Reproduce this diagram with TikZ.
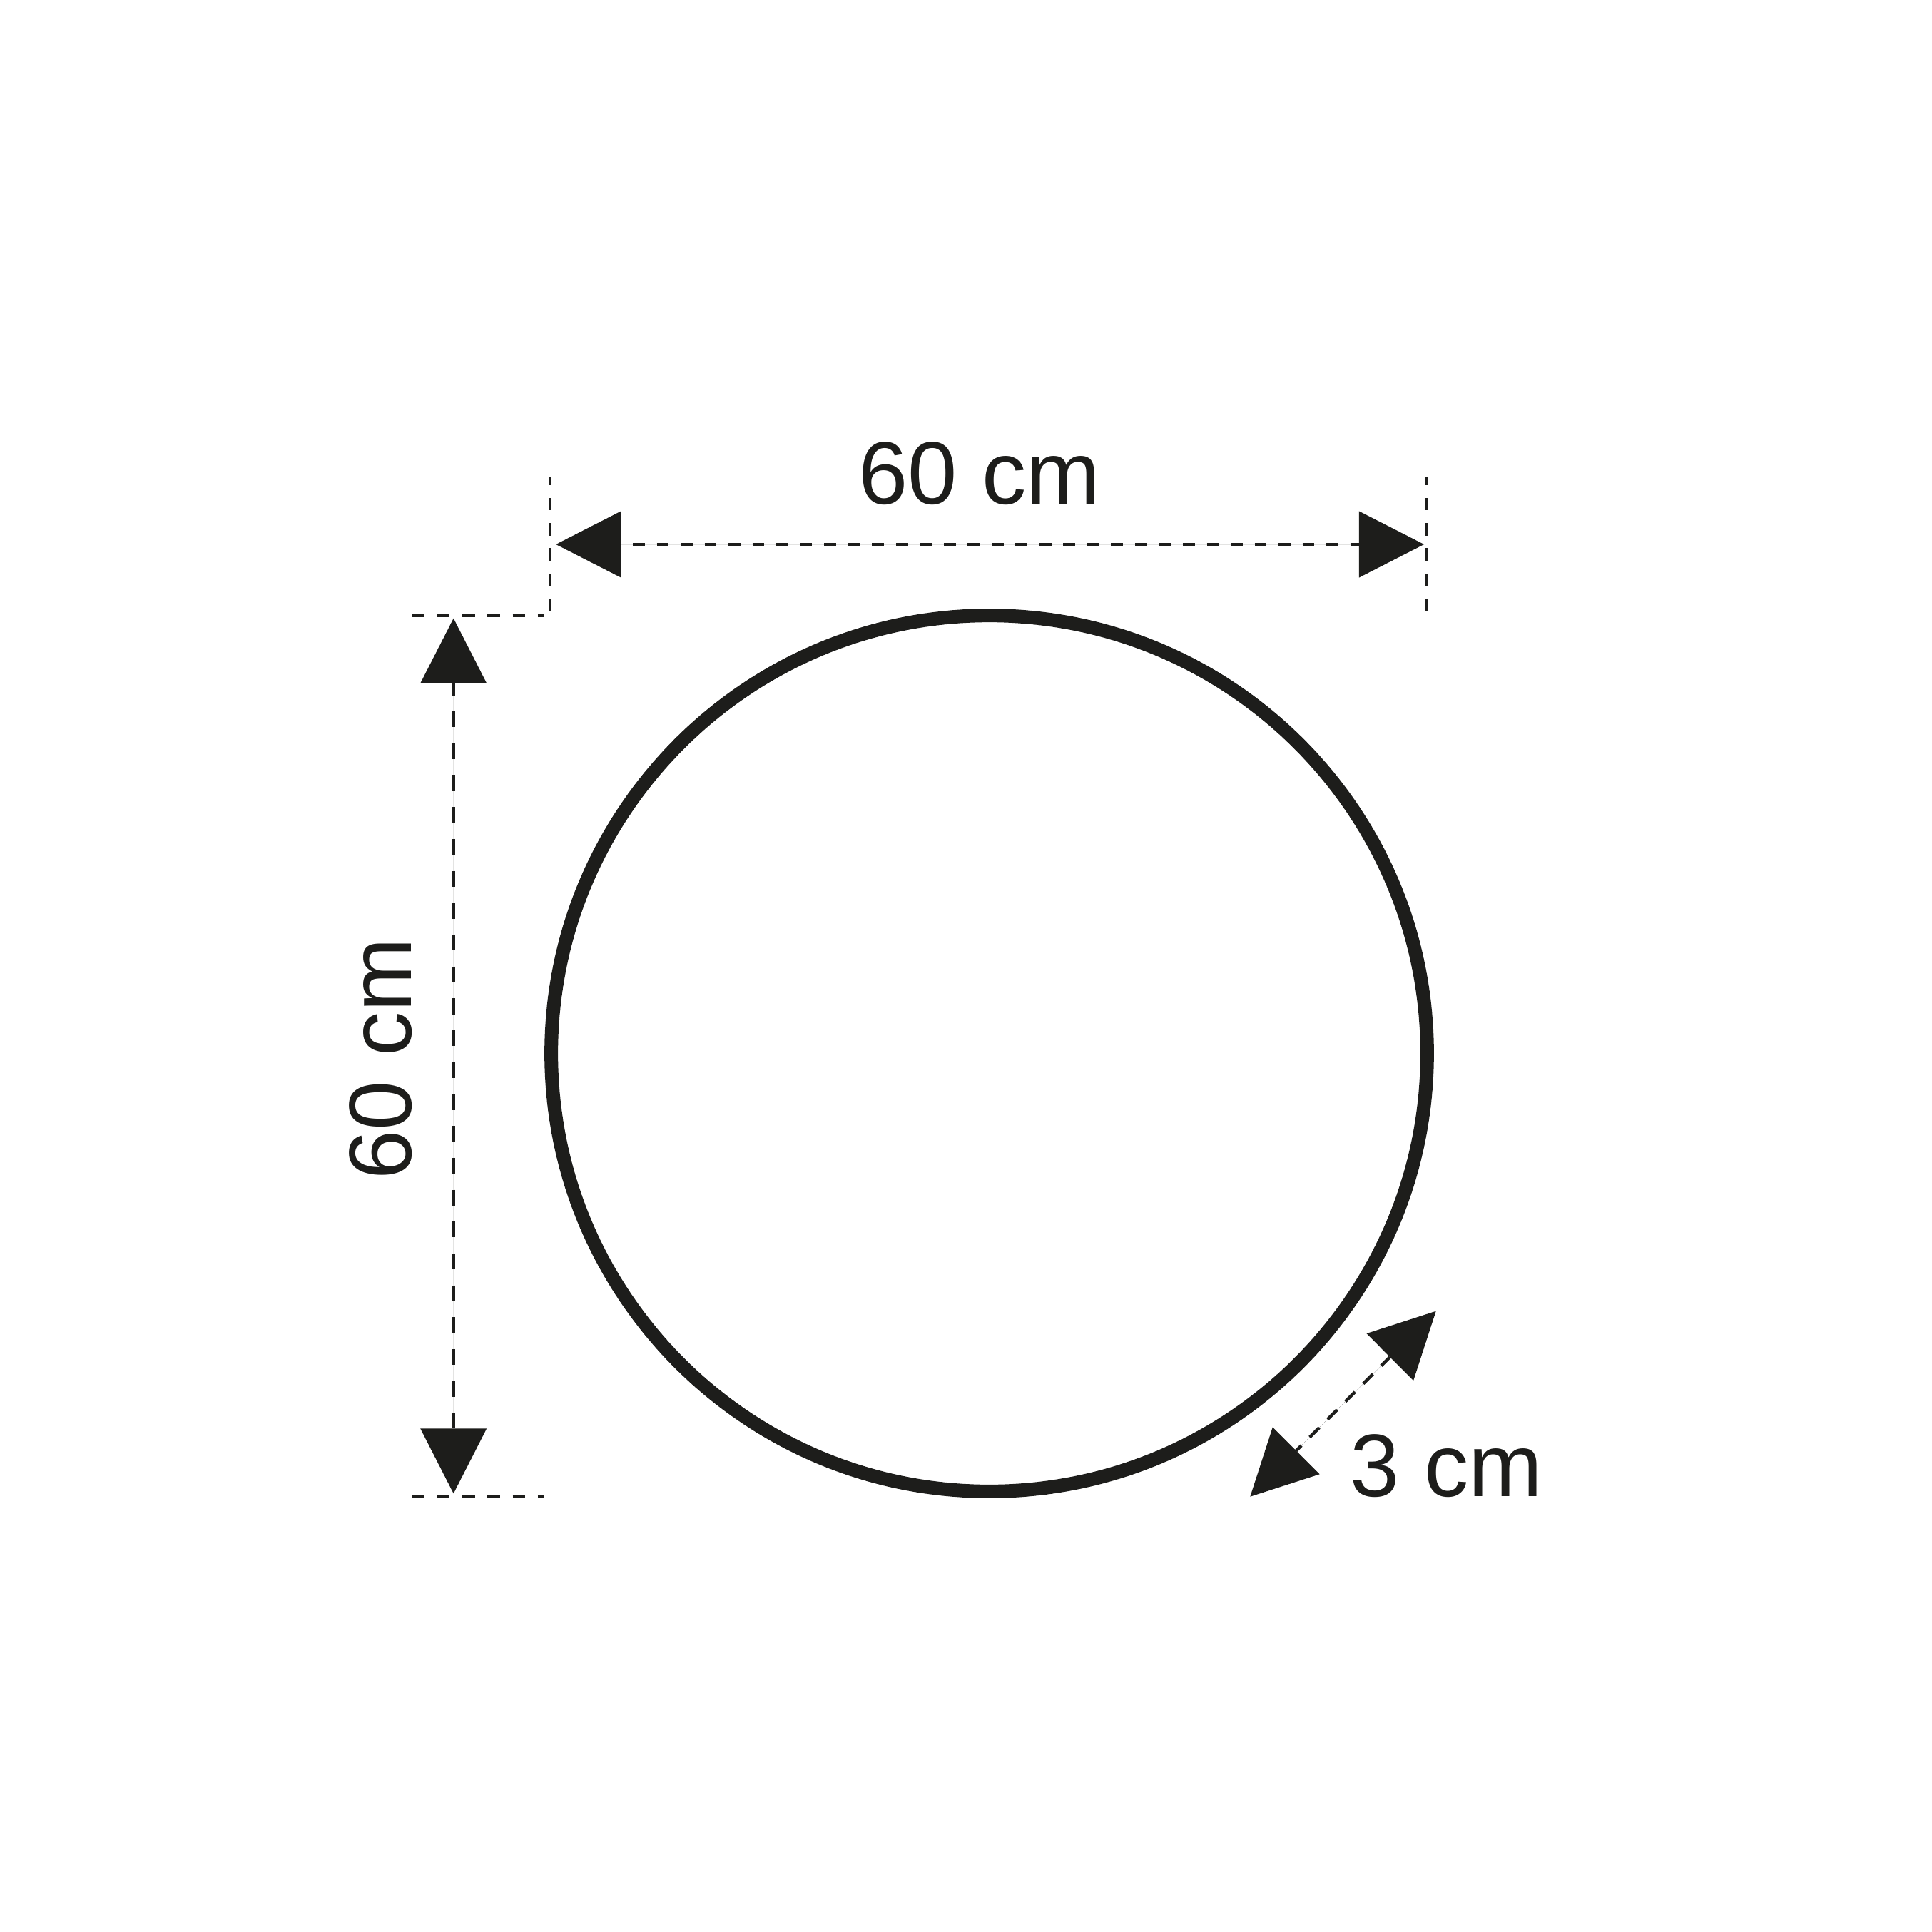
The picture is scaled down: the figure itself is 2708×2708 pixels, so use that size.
\documentclass[tikz,border=0pt]{standalone}
\usepackage{fontspec}
\setmainfont{Liberation Sans}
\usetikzlibrary{arrows.meta}
\definecolor{ink}{RGB}{29,29,27}
\begin{document}
\begin{tikzpicture}[x=0.01cm,y=-0.01cm,
  lbl/.style={text=ink, font=\fontsize{35.4}{40}\selectfont, inner sep=0pt},
  ring/.style={draw=ink, line width=5.4pt, circle, minimum size=12.27cm, inner sep=0pt},
  dimarrows/.style={arrows={Triangle[length=0.91cm,width=0.93cm,line width=0pt]-Triangle[length=0.91cm,width=0.93cm,line width=0pt]}},
  hdim/.style={draw=ink, fill=ink, line width=1.15pt, dash pattern=on 4.75pt off 4.78pt, dash phase=4.75pt, dimarrows},
  vdim/.style={draw=ink, fill=ink, line width=1.5pt, dash pattern=on 6.34pt off 6.37pt, dash phase=1.54pt, dimarrows},
  ddim/.style={draw=ink, fill=ink, line width=1.25pt, dash pattern=on 5.38pt off 4.69pt, dash phase=2.45pt, dimarrows},
  extline/.style={draw=ink, line width=1.15pt, dash pattern=on 5.06pt off 4.98pt}
]
\useasboundingbox (0,0) rectangle (2708,2708);

% circle
\node[ring] (disk) at (1386.5,1476.5) {};

% labels
\node[lbl, anchor=base] (wlabel) at (1373,706.7) {60 cm};
\node[lbl, anchor=base, rotate=90] (hlabel) at (576,1484) {60 cm};
\node[lbl, anchor=base] (tlabel) at (2027.5,2097.3) {3 cm};

% dimension end points
\coordinate (wl) at (779.3,763);
\coordinate (wr) at (1996,763);
\coordinate (ht) at (635.7,866.7);
\coordinate (hb) at (635.7,2093.3);
\coordinate (tout) at (2012.7,1837.7);
\coordinate (tin) at (1752.3,2097.7);

% extension line end points
\coordinate (e1a) at (771,669.3);
\coordinate (e1b) at (771,856);
\coordinate (e2a) at (2000,669.3);
\coordinate (e2b) at (2000,856);
\coordinate (e3a) at (577.3,863.3);
\coordinate (e3b) at (763.3,863.3);
\coordinate (e4a) at (577.3,2098.3);
\coordinate (e4b) at (763.3,2098.3);

% extension lines
\draw[extline, dash phase=2pt] (e1a) -- (e1b);
\draw[extline, dash phase=2pt] (e2a) -- (e2b);
\draw[extline] (e3a) -- (e3b);
\draw[extline] (e4a) -- (e4b);

% dimension lines
\draw[hdim] (wl) -- (wr);
\draw[vdim] (ht) -- (hb);
\draw[ddim] (tin) -- (tout);
\end{tikzpicture}
\end{document}
